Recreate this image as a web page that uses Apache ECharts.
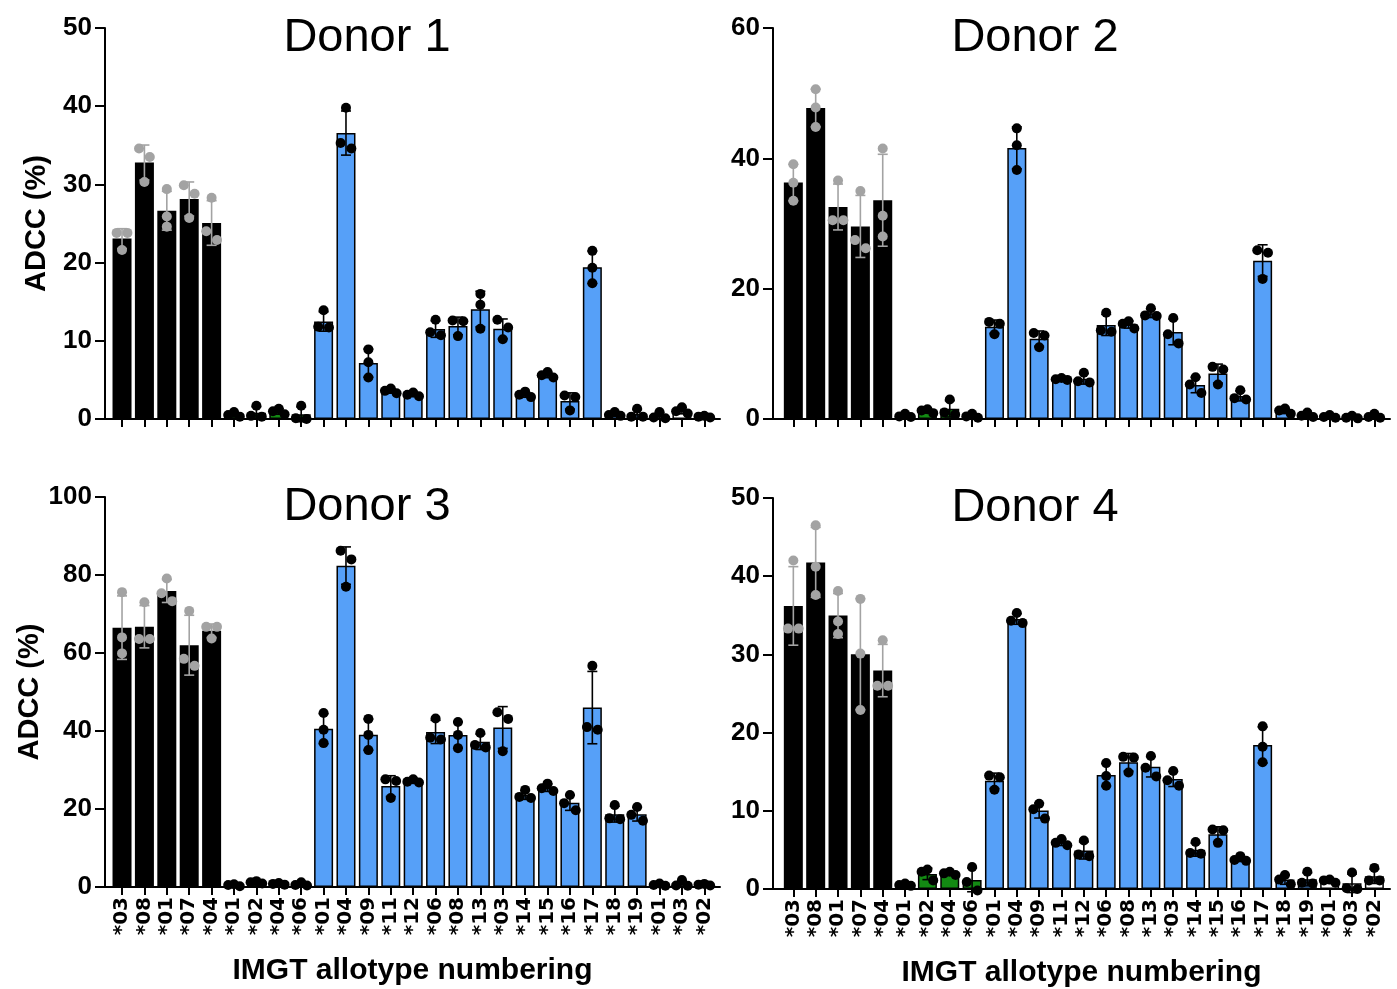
<!DOCTYPE html>
<html>
<head>
<meta charset="utf-8">
<script src="https://cdn.jsdelivr.net/npm/echarts@6/dist/echarts.min.js"></script>
<style>
  html, body { margin: 0; padding: 0; background: #fff; }
  #chart { width: 1397px; height: 989px; }
</style>
</head>
<body>
<div id="chart"></div>
<script>
// allotype labels, left to right
const cats = ['*03','*08','*01','*07','*04','*01','*02','*04','*06','*01','*04','*09','*11','*12','*06',
              '*08','*13','*03','*14','*15','*16','*17','*18','*19','*01','*03','*02'];
// 0 = black, 1 = green, 2 = blue, 3 = white
const groups = [0,0,0,0,0,1,1,1,1,2,2,2,2,2,2,2,2,2,2,2,2,2,2,2,3,3,3];

const donorNames = ['Donor 1', 'Donor 2', 'Donor 3', 'Donor 4'];
const yMax = [50, 60, 100, 50];
const yStep = [10, 20, 20, 10];

// three replicate points per allotype
const donor1 = [
    [23.8,23.8,21.6],[34.6,33.5,30.3],[29.4,25.9,24.6],[29.9,28.8,25.7],[28.3,24.0,22.9],
    [0.9,0.3,0.5],[1.7,0.4,0.3],[1.3,1.0,0.6],[1.7,0.1,0.0],
    [13.9,11.7,11.8],[39.8,34.6,35.3],[8.9,7.25,5.3],[3.3,3.9,3.6],[2.9,3.4,3.1],[12.7,10.7,11.1],
    [12.5,12.6,10.6],[16.0,14.6,11.55],[12.7,11.7,10.2],[2.8,3.5,3.1],[5.3,6.0,5.6],[1.1,2.8,3.0],
    [21.5,19.35,17.35],[0.9,0.4,0.5],[1.3,0.3,0.3],
    [0.9,0.2,0.1],[1.5,1.0,0.7],[0.4,0.2,0.3]
];
const donor2 = [
    [39.1,36.25,33.5],[50.6,47.8,44.8],[36.6,30.5,30.5],[35.0,27.45,26.2],[41.5,31.2,28.0],
    [0.8,0.4,0.3],[1.5,1.3,0.9],[3.0,1.0,0.7],[0.8,0.2,0.4],
    [14.9,14.6,13.0],[44.6,42.0,38.2],[13.2,12.8,11.0],[6.3,6.1,6.0],[7.1,5.6,5.8],[16.3,13.6,13.4],
    [15.0,14.6,13.9],[17.0,15.9,15.8],[15.5,13.0,11.6],[6.4,5.3,4.0],[8.0,7.6,5.3],[4.4,3.0,3.2],
    [25.9,25.5,21.5],[1.6,1.3,0.8],[1.0,0.5,0.3],
    [0.6,0.3,0.2],[0.5,0.2,0.1],[0.8,0.2,0.3]
];
const donor3 = [
    [75.6,64.0,59.9],[73.0,63.6,63.6],[79.1,75.3,73.3],[70.8,58.5,56.7],[66.7,66.7,63.7],
    [0.7,0.5,0.2],[1.5,1.2,0.9],[1.0,0.8,0.6],[1.2,0.5,0.4],
    [44.6,40.3,36.9],[86.2,84.0,77.0],[43.1,39.0,35.1],[27.6,27.2,22.8],[27.6,27.0,26.8],[43.2,38.3,37.8],
    [42.3,39.0,35.6],[39.5,36.4,35.8],[44.8,43.1,34.8],[24.9,23.1,22.8],[26.5,25.3,24.6],[23.6,21.5,19.7],
    [56.7,41.0,40.3],[21.0,17.6,17.4],[20.5,18.5,17.0],
    [0.9,0.5,0.3],[1.8,0.4,0.3],[0.8,0.6,0.4]
];
const donor4 = [
    [42.0,33.3,33.3],[46.5,41.2,37.6],[38.1,34.2,32.6],[37.1,30.1,22.9],[31.8,26.0,26.0],
    [0.7,0.5,0.4],[2.5,2.2,1.1],[2.2,2.0,1.8],[2.8,0.9,-0.2],
    [14.5,14.3,12.7],[35.3,34.3,34.0],[10.9,10.2,9.0],[6.4,5.9,5.6],[6.2,4.4,4.2],[16.1,14.45,13.2],
    [16.9,16.8,14.9],[17.0,15.5,14.4],[15.1,13.9,13.2],[6.0,4.6,4.5],[7.6,7.5,5.9],[4.2,3.7,3.6],
    [20.8,18.2,16.2],[1.8,1.2,0.6],[2.2,0.8,0.7],
    [1.2,1.1,0.8],[2.1,0.1,0.0],[2.7,1.1,1.1]
];
const donors = [donor1, donor2, donor3, donor4];

const barColors = ['#000000', '#138a13', '#56a0f8', '#ffffff'];
const FONT = 'Arial, "Liberation Sans", Helvetica, sans-serif';
const TICKFONT = '"DejaVu Sans", Arial, sans-serif';

// panel layout
const panels = [
    { left: 105, top: 28,  width: 615, height: 391, xMin: -0.76, xMax: 26.7, labels: false },
    { left: 773, top: 28,  width: 617, height: 391, xMin: -0.91, xMax: 26.7, labels: false },
    { left: 105, top: 497, width: 615, height: 390, xMin: -0.76, xMax: 26.7, labels: true },
    { left: 773, top: 498, width: 617, height: 391, xMin: -0.91, xMax: 26.7, labels: true }
];

function mean(a) { return a.reduce((s, v) => s + v, 0) / a.length; }
function sd(a) {
    const m = mean(a);
    return Math.sqrt(a.reduce((s, v) => s + (v - m) * (v - m), 0) / (a.length - 1));
}

// sideways offsets for points that would overlap (like Prism's scatter)
function spread(vals, thr) {
    const idx = vals.map((v, i) => i).sort((a, b) => vals[b] - vals[a]);
    const off = vals.map(() => 0);
    const clusters = [];
    let cur = [idx[0]];
    for (let k = 1; k < idx.length; k++) {
        if (vals[cur[cur.length - 1]] - vals[idx[k]] < thr) cur.push(idx[k]);
        else { clusters.push(cur); cur = [idx[k]]; }
    }
    clusters.push(cur);
    clusters.forEach(c => {
        if (c.length === 2) { off[c[0]] = -0.24; off[c[1]] = 0.24; }
        if (c.length === 3) { off[c[0]] = 0; off[c[1]] = -0.26; off[c[2]] = 0.26; }
    });
    return off;
}

const ticks = cats.map((c, i) => i);
const option = {
    animation: false,
    backgroundColor: '#fff',
    title: [],
    grid: [],
    xAxis: [],
    yAxis: [],
    series: []
};

panels.forEach((p, k) => {
    option.title.push({
        text: donorNames[k],
        left: p.left + 257,
        top: p.top - 18,
        textAlign: 'center',
        textStyle: { fontFamily: FONT, fontSize: 47, fontWeight: 'normal', color: '#000' }
    });
    option.grid.push({ left: p.left, top: p.top, width: p.width, height: p.height, containLabel: false });
    option.xAxis.push({
        type: 'value',
        gridIndex: k,
        min: p.xMin,
        max: p.xMax,
        name: p.labels ? 'IMGT allotype numbering' : '',
        nameLocation: 'middle',
        nameGap: 69,
        nameTextStyle: { fontFamily: FONT, fontSize: 30, fontWeight: 'bold', color: '#000' },
        splitLine: { show: false },
        axisLine: { show: true, onZero: false, lineStyle: { color: '#000', width: 2 } },
        axisTick: { show: true, length: 8, lineStyle: { color: '#000', width: 2 }, customValues: ticks },
        axisLabel: {
            show: p.labels,
            customValues: ticks,
            showMinLabel: true,
            showMaxLabel: true,
            hideOverlap: false,
            rotate: 90,
            margin: 10,
            fontFamily: TICKFONT, fontSize: 20, fontWeight: 'bold', color: '#000',
            formatter: v => cats[Math.round(v)]
        }
    });
    option.yAxis.push({
        type: 'value',
        gridIndex: k,
        min: 0,
        max: yMax[k],
        interval: yStep[k],
        name: (k % 2 === 0) ? 'ADCC (%)' : '',
        nameLocation: 'middle',
        nameGap: 54,
        nameRotate: 90,
        nameTextStyle: { fontFamily: FONT, fontSize: 29, fontWeight: 'bold', color: '#000' },
        splitLine: { show: false },
        axisLine: { show: true, onZero: false, lineStyle: { color: '#000', width: 2 } },
        axisTick: { show: true, length: 10, lineStyle: { color: '#000', width: 2 } },
        axisLabel: { margin: 13, fontFamily: FONT, fontSize: 26, fontWeight: 'bold', color: '#000' }
    });

    const dots = donors[k];
    const thr = 0.024 * yMax[k];

    option.series.push({
        type: 'bar',
        xAxisIndex: k,
        yAxisIndex: k,
        barWidth: 19,
        z: 2,
        data: dots.map((d, i) => ({
            value: [i, mean(d)],
            itemStyle: {
                color: barColors[groups[i]],
                borderColor: '#000',
                borderWidth: groups[i] === 0 ? 0 : 1.5
            }
        }))
    });

    option.series.push({
        type: 'custom',
        xAxisIndex: k,
        yAxisIndex: k,
        z: 3,
        clip: false,
        data: dots.map((d, i) => [i, mean(d), sd(d), groups[i]]),
        renderItem: function (params, api) {
            const x = api.value(0), m = api.value(1), s = api.value(2);
            const col = api.value(3) === 0 ? '#a3a3a3' : '#000';
            const hi = api.coord([x, m + s]);
            const lo = api.coord([x, m - s]);
            const w = 5;
            const style = { stroke: col, lineWidth: 1.6 };
            return {
                type: 'group',
                children: [
                    { type: 'line', shape: { x1: hi[0], y1: hi[1], x2: lo[0], y2: lo[1] }, style: style },
                    { type: 'line', shape: { x1: hi[0] - w, y1: hi[1], x2: hi[0] + w, y2: hi[1] }, style: style },
                    { type: 'line', shape: { x1: lo[0] - w, y1: lo[1], x2: lo[0] + w, y2: lo[1] }, style: style }
                ]
            };
        }
    });

    const pts = [];
    dots.forEach((d, i) => {
        const off = spread(d, thr);
        d.forEach((v, j) => {
            pts.push({
                value: [i + off[j], v],
                itemStyle: { color: groups[i] === 0 ? '#a3a3a3' : '#000', opacity: 1 }
            });
        });
    });
    option.series.push({
        type: 'scatter',
        xAxisIndex: k,
        yAxisIndex: k,
        symbol: 'circle',
        symbolSize: 10,
        z: 4,
        clip: false,
        itemStyle: { opacity: 1 },
        data: pts
    });
});

const chart = echarts.init(document.getElementById('chart'));
chart.setOption(option);
</script>
</body>
</html>
